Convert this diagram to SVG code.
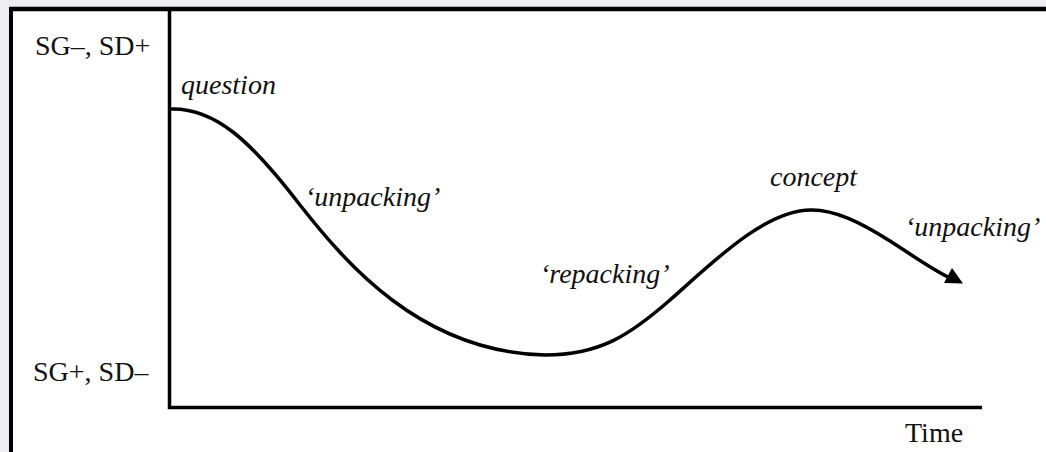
<svg xmlns="http://www.w3.org/2000/svg" width="1046" height="452" viewBox="0 0 1046 452">
<style>
.lbl{font-family:"Liberation Serif","Times New Roman",serif;font-size:28px;fill:#111}
.it{font-style:italic}
.axis{stroke:#000;stroke-width:3.5;fill:none}
.curve{stroke:#000;stroke-width:3.5;fill:none;stroke-linecap:round}
</style>
<rect x="0" y="0" width="1046" height="452" fill="#eceef3"/>
<rect x="11" y="9" width="1035" height="443" fill="#ffffff"/>
<g id="frame">
<line x1="9" y1="9" x2="1046" y2="9" stroke="#000" stroke-width="4.5"/>
<line x1="11" y1="7" x2="11" y2="452" stroke="#000" stroke-width="4"/>
</g>
<g id="axes">
<polyline class="axis" points="169.5,11 169.5,407.5 982,407.5"/>
</g>
<g id="y-labels">
<text class="lbl" x="35" y="55">SG–, SD+</text>
<text class="lbl" x="33" y="381">SG+, SD–</text>
</g>
<g id="x-label">
<text class="lbl" x="905" y="442">Time</text>
</g>
<g id="connectors">
<path class="curve" d="M171,109 C215,108 250,140 300,205 C345,262 420,352 545,355 C600,355 630,335 670,300 C710,265 765,209 812,210 C835,210 860,222 890,241 C915,257 930,268 948,277"/>
<polygon points="944,283 963,283.5 952,268" fill="#000"/>
</g>
<g id="question"><text class="lbl it" x="181" y="94">question</text></g>
<g id="unpacking1"><text class="lbl it" x="305" y="206">‘unpacking’</text></g>
<g id="repacking"><text class="lbl it" x="540" y="283">‘repacking’</text></g>
<g id="concept"><text class="lbl it" x="770" y="186">concept</text></g>
<g id="unpacking2"><text class="lbl it" x="905" y="236">‘unpacking’</text></g>
</svg>
